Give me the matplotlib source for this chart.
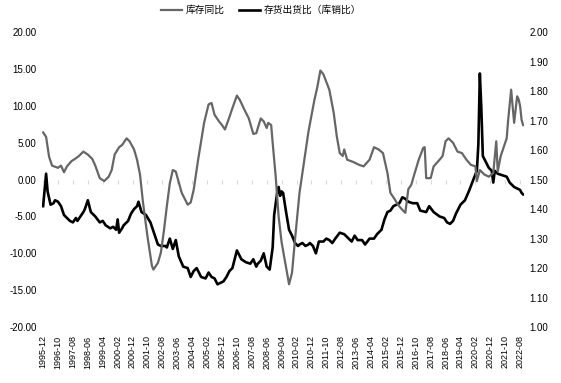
import matplotlib
matplotlib.use("Agg")
import matplotlib.pyplot as plt
import pandas as pd

# months counted from 1995-12
start_month = "1995-12"
n_months = 323

stock_yoy_month = [
    0, 2, 4, 6, 10, 12, 14, 16, 19, 22, 24, 27, 30, 33, 35, 38, 41, 44, 46, 48,
    51, 53, 56, 58, 61, 63, 65, 67, 70, 73, 74, 77, 79, 81, 83, 85, 87, 89, 93, 97,
    99, 101, 104, 108, 111, 113, 115, 118, 120, 122, 125, 127, 130, 132, 135, 138, 141, 143, 146, 148,
    150, 151, 153, 154, 156, 158, 160, 163, 165, 167, 169, 172, 175, 178, 182, 184, 186, 188, 192, 195,
    197, 199, 201, 202, 204, 208, 212, 215, 219, 222, 225, 228, 231, 233, 236, 238, 241, 243, 245, 247,
    249, 252, 255, 256, 257, 260, 262, 266, 268, 270, 272, 275, 278, 281, 284, 287, 290, 291, 293, 296,
    299, 302, 304, 305, 307, 311, 312, 314, 316, 318, 319, 320, 321, 322,
]
stock_yoy = [
    6.4, 5.8, 3.1, 1.9, 1.6, 1.9, 1.0, 1.8, 2.5, 2.9, 3.2, 3.8, 3.4, 2.8, 1.9, 0.2, -0.2, 0.4, 1.3, 3.4,
    4.4, 4.7, 5.6, 5.2, 4.1, 2.7, 0.7, -3.1, -7.7, -11.7, -12.2, -11.3, -9.9, -7.0, -3.6, -0.5, 1.3, 1.1, -1.8, -3.4,
    -3.1, -1.4, 2.7, 7.7, 10.2, 10.4, 8.8, 7.9, 7.4, 6.8, 8.5, 9.7, 11.4, 10.8, 9.5, 8.3, 6.2, 6.3, 8.3, 7.9,
    7.0, 7.7, 7.4, 5.0, 0.5, -5.0, -8.5, -11.9, -14.2, -12.6, -8.1, -1.8, 2.3, 6.5, 10.8, 12.6, 14.8, 14.3, 12.2, 9.0,
    5.9, 3.6, 3.2, 4.1, 2.7, 2.4, 2.0, 1.8, 2.7, 4.4, 4.1, 3.6, 0.9, -1.8, -2.7, -3.4, -4.1, -4.5, -1.3, -0.7,
    0.7, 2.7, 4.3, 4.4, 0.2, 0.2, 1.8, 2.7, 3.2, 5.2, 5.6, 5.0, 3.8, 3.6, 2.7, 2.0, 1.8, -0.2, 1.3, 0.7,
    0.4, 0.9, 5.2, 1.1, 3.2, 5.6, 8.1, 12.2, 7.7, 11.3, 10.9, 10.0, 8.1, 7.4,
]

ratio_month = [
    0, 2, 3, 5, 7, 8, 10, 12, 14, 16, 18, 20, 22, 23, 25, 27, 28, 30, 32, 35,
    38, 40, 42, 45, 47, 49, 50, 51, 53, 54, 57, 59, 61, 63, 64, 66, 69, 72, 75, 77,
    79, 82, 83, 85, 87, 89, 91, 94, 97, 99, 101, 103, 105, 106, 109, 111, 113, 115, 117, 119,
    121, 123, 125, 127, 128, 130, 131, 133, 136, 139, 141, 143, 144, 146, 148, 150, 152, 154, 155, 157,
    158, 159, 160, 161, 163, 165, 167, 169, 171, 172, 174, 176, 178, 179, 181, 183, 185, 188, 190, 192,
    194, 196, 199, 202, 204, 207, 209, 211, 214, 216, 219, 222, 224, 227, 229, 231, 233, 235, 237, 239,
    241, 243, 245, 248, 251, 253, 257, 259, 262, 266, 269, 271, 273, 275, 277, 280, 283, 286, 289, 291,
    292, 293, 294, 295, 297, 299, 301, 302, 303, 305, 308, 311, 313, 316, 318, 320, 321, 322,
]
ratio = [
    1.41, 1.52, 1.46, 1.415, 1.42, 1.43, 1.425, 1.41, 1.38, 1.37, 1.36, 1.355, 1.37, 1.36, 1.375, 1.39, 1.40, 1.43, 1.39, 1.375,
    1.355, 1.36, 1.345, 1.335, 1.34, 1.33, 1.365, 1.32, 1.335, 1.345, 1.36, 1.385, 1.40, 1.41, 1.425, 1.39, 1.38, 1.355, 1.31, 1.28,
    1.275, 1.275, 1.27, 1.30, 1.265, 1.295, 1.24, 1.205, 1.20, 1.17, 1.19, 1.20, 1.18, 1.17, 1.165, 1.185, 1.17, 1.165, 1.145, 1.15,
    1.155, 1.17, 1.19, 1.20, 1.22, 1.26, 1.25, 1.23, 1.22, 1.215, 1.23, 1.205, 1.215, 1.225, 1.25, 1.205, 1.195, 1.27, 1.38, 1.455,
    1.475, 1.445, 1.46, 1.455, 1.39, 1.33, 1.31, 1.285, 1.275, 1.28, 1.285, 1.275, 1.28, 1.285, 1.275, 1.25, 1.29, 1.29, 1.30, 1.295,
    1.285, 1.30, 1.32, 1.315, 1.305, 1.29, 1.31, 1.295, 1.295, 1.28, 1.30, 1.30, 1.315, 1.33, 1.365, 1.39, 1.395, 1.41, 1.415, 1.42,
    1.44, 1.435, 1.425, 1.42, 1.42, 1.395, 1.39, 1.41, 1.39, 1.375, 1.37, 1.355, 1.35, 1.36, 1.385, 1.415, 1.43, 1.465, 1.505, 1.53,
    1.62, 1.86, 1.74, 1.58, 1.56, 1.54, 1.53, 1.49, 1.53, 1.52, 1.515, 1.51, 1.49, 1.475, 1.47, 1.465, 1.455, 1.45,
]

labels = ["库存同比", "存货出货比（库销比）"]

months = pd.period_range(start_month, periods=n_months, freq="M")
tick_pos = list(range(0, n_months, 10))
tick_labels = [months[i].strftime("%Y-%m") for i in tick_pos]

plt.rcParams["font.family"] = ["Liberation Sans", "Noto Sans CJK SC", "DejaVu Sans"]

fig = plt.figure(figsize=(5.61, 3.83), dpi=100)
ax = fig.add_axes([0.075, 0.146, 0.859, 0.770])
ax2 = ax.twinx()

l1, = ax.plot(stock_yoy_month, stock_yoy, color="#666666", lw=1.6, label=labels[0])
l2, = ax2.plot(ratio_month, ratio, color="black", lw=1.9, label=labels[1])

ax.set_ylim(-20, 20)
ax.set_yticks(range(-20, 21, 5))
ax.set_yticklabels([f"{v:.2f}" for v in range(-20, 21, 5)], fontsize=7)
ax2.set_ylim(1.0, 2.0)
ax2.set_yticks([1.0 + 0.1 * i for i in range(11)])
ax2.set_yticklabels([f"{1.0 + 0.1 * i:.2f}" for i in range(11)], fontsize=7)

ax.set_xlim(-0.7, 322.6)
ax.set_xticks(tick_pos)
ax.set_xticklabels(tick_labels, rotation=90, fontsize=6.5)
ax.tick_params(axis="x", length=0, pad=6)
ax.tick_params(axis="y", length=0, pad=4)
ax2.tick_params(axis="y", length=0, pad=4)

for a in (ax, ax2):
    for s in a.spines.values():
        s.set_visible(False)

# zero line with small tick marks pointing down
zero_axis = ax.secondary_xaxis(0.5)
for s in zero_axis.spines.values():
    s.set_color("#d9d9d9")
    s.set_linewidth(0.9)
zero_axis.spines["top"].set_visible(False)
zero_axis.set_xticks(tick_pos, labels=[""] * len(tick_pos))
zero_axis.xaxis.set_ticks_position("bottom")
zero_axis.tick_params(axis="x", length=3, direction="out", color="#d9d9d9")

ax.set_zorder(ax2.get_zorder() + 1)
ax.patch.set_visible(False)

fig.legend(handles=[l1, l2], loc="upper center", bbox_to_anchor=(0.465, 1.01),
           ncol=2, frameon=False, handlelength=2.2, columnspacing=1.5, handletextpad=0.3,
           prop={"family": ["Noto Sans CJK SC", "DejaVu Sans"], "size": 7})

fig.savefig("out.png", dpi=100)
